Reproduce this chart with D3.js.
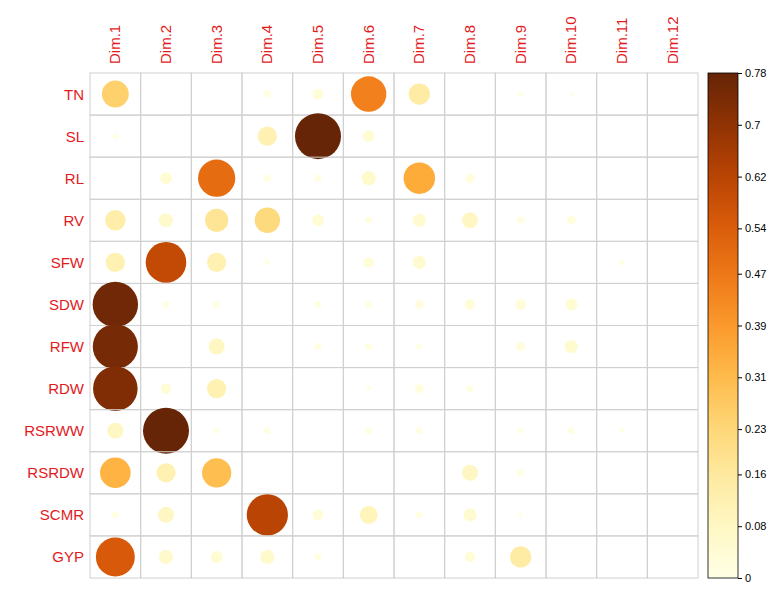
<!DOCTYPE html>
<html><head><meta charset="utf-8">
<script src="https://cdn.jsdelivr.net/npm/d3@7"></script>
<style>body{margin:0;background:#fff}text{font-family:"Liberation Sans",Arial,sans-serif}</style>
</head><body><div id="chart"></div>
<script>
const rows = ["TN","SL","RL","RV","SFW","SDW","RFW","RDW","RSRWW","RSRDW","SCMR","GYP"];
const dims = ["Dim.1","Dim.2","Dim.3","Dim.4","Dim.5","Dim.6","Dim.7","Dim.8","Dim.9","Dim.10","Dim.11","Dim.12"];
const values = [
  [0.25,0,0,0.01,0.03,0.45,0.15,0,0.005,0.002,0,0],
  [0.005,0,0,0.12,0.78,0.04,0,0,0,0,0,0],
  [0,0.04,0.5,0.01,0.01,0.06,0.35,0.02,0,0,0,0],
  [0.14,0.06,0.18,0.22,0.04,0.01,0.05,0.08,0.01,0.02,0,0],
  [0.12,0.6,0.12,0.005,0,0.03,0.05,0,0,0,0.005,0],
  [0.76,0.01,0.01,0,0.01,0.01,0.02,0.03,0.03,0.04,0,0],
  [0.75,0,0.08,0,0.01,0.01,0.005,0,0.02,0.05,0,0],
  [0.73,0.03,0.12,0,0,0.003,0.02,0.01,0,0,0,0],
  [0.08,0.78,0.005,0.01,0,0.01,0.01,0,0.005,0.01,0.003,0],
  [0.33,0.12,0.3,0,0,0,0,0.08,0.01,0,0,0],
  [0.01,0.08,0,0.62,0.03,0.1,0.01,0.05,0.003,0,0,0],
  [0.55,0.06,0.04,0.06,0.01,0,0,0.03,0.15,0,0,0]
];
const legendTicks = [0,0.08,0.16,0.23,0.31,0.39,0.47,0.54,0.62,0.7,0.78];
const vmax = 0.78;

const svg = d3.select("#chart").append("svg").attr("width",775).attr("height",592);
const x = d3.scaleBand().domain(dims).range([90,698]);
const y = d3.scaleBand().domain(rows).range([73,578]);
const color = d3.scaleSequential(d3.interpolateYlOrBr).domain([0,vmax]);
const r = d3.scaleSqrt().domain([0,vmax]).range([1,23]);

const g = svg.append("g");
rows.forEach((rn,i)=>dims.forEach((dn,j)=>{
  g.append("rect").attr("x",x(dn)).attr("y",y(rn)).attr("width",x.bandwidth()).attr("height",y.bandwidth())
   .attr("fill","none").attr("stroke","#d0d0d0");
  const v = values[i][j];
  if (v>0) g.append("circle").attr("cx",x(dn)+x.bandwidth()/2).attr("cy",y(rn)+y.bandwidth()/2)
    .attr("r",r(v)).attr("fill",color(v));
}));

svg.selectAll(".rl").data(rows).join("text").attr("x",84).attr("y",d=>y(d)+y.bandwidth()/2)
  .attr("text-anchor","end").attr("dominant-baseline","central").attr("fill","#e31a1c").attr("font-size",15).text(d=>d);
svg.selectAll(".cl").data(dims).join("text")
  .attr("transform",d=>`translate(${x(d)+x.bandwidth()/2+5},64) rotate(-90)`)
  .attr("fill","#e31a1c").attr("font-size",15).text(d=>d);

// colour legend
const ly = d3.scaleLinear().domain([0,vmax]).range([578,73]);
const defs = svg.append("defs");
const grad = defs.append("linearGradient").attr("id","lg").attr("x1",0).attr("x2",0).attr("y1",1).attr("y2",0);
d3.range(0,1.01,0.1).forEach(t=>grad.append("stop").attr("offset",t).attr("stop-color",color(t*vmax)));
svg.append("rect").attr("x",708).attr("y",73).attr("width",30).attr("height",505).attr("fill","url(#lg)").attr("stroke","#000").attr("stroke-width",0.8);
const ax = svg.append("g").attr("transform","translate(738,0)").call(d3.axisRight(ly).tickValues(legendTicks).tickSize(4).tickFormat(d=>d));
ax.select(".domain").remove();
ax.selectAll("text").attr("font-size",11);
</script></body></html>
